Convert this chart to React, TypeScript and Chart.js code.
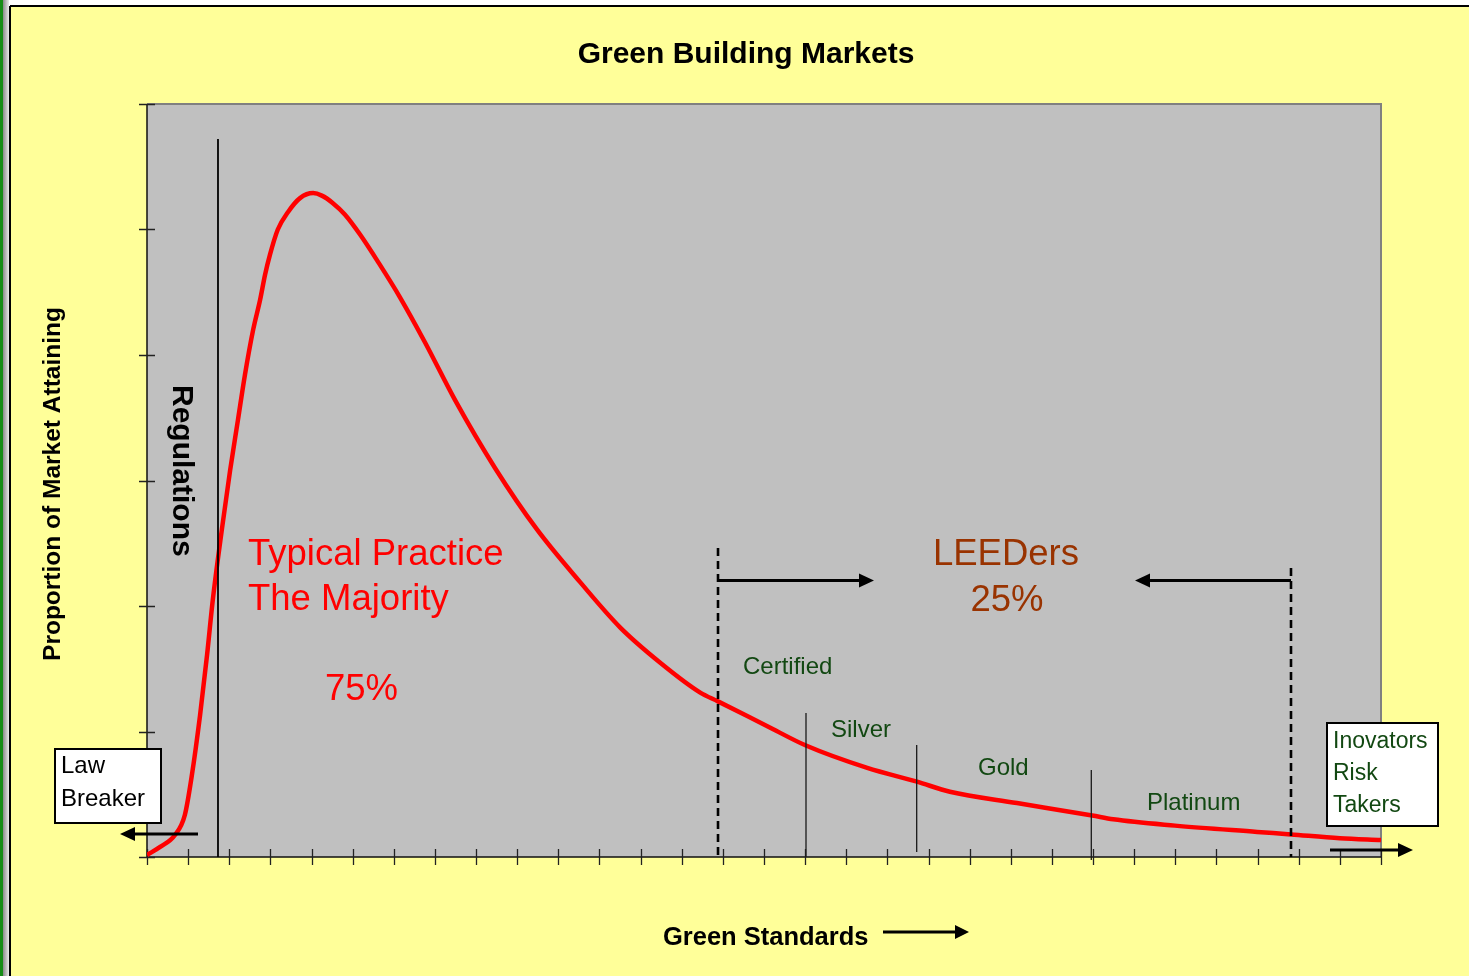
import React, { useEffect, useRef } from "react";
import { Chart, registerables } from "chart.js";

Chart.register(...registerables);

// ---- Data (x = green standard level, y = proportion of market) ----
const curveX = [
  0, 0.32, 0.68, 0.92, 1.09, 1.29, 1.46, 1.6, 1.82, 2.02, 2.21, 2.38, 2.58, 2.75, 2.87, 2.99,
  3.18, 3.43, 3.72, 4.04, 4.25, 4.52, 4.81, 5.18, 5.66, 6.15, 6.76, 7.49, 8.46, 9.48, 10.53,
  11.5, 12.47, 13.45, 13.88, 15.07, 16.02, 17.51, 18.72, 19.52, 21.15, 22.98, 23.49, 24.99,
  26.99, 27.81, 29.0, 30,
];
const curveY = [
  0.016, 0.08, 0.175, 0.335, 0.65, 1.13, 1.61, 2.05, 2.61, 3.08, 3.48, 3.84, 4.2, 4.44, 4.64,
  4.8, 5.0, 5.14, 5.25, 5.29, 5.27, 5.21, 5.12, 4.96, 4.72, 4.46, 4.1, 3.64, 3.1, 2.61, 2.19,
  1.83, 1.55, 1.31, 1.24, 1.044, 0.888, 0.71, 0.6, 0.52, 0.43, 0.33, 0.3, 0.25, 0.2, 0.18, 0.15,
  0.135,
];
const xTickValues = Array.from({ length: 31 }, (_, i) => i);
const yTickValues = [0, 1, 2, 3, 4, 5, 6];

// ---- Annotation texts ----
const titleText = "Green Building Markets";
const yTitleText = "Proportion of Market Attaining";
const xTitleText = "Green Standards";
const regulationsText = "Regulations";
const majorityLines = ["Typical Practice", "The Majority"];
const majorityShare = "75%";
const leedersLines = ["LEEDers", "25%"];
const levelNames = ["Certified", "Silver", "Gold", "Platinum"];
const lawBreakerLines = ["Law", "Breaker"];
const innovatorLines = ["Inovators", "Risk", "Takers"];

const FONT = '"Liberation Sans", Arial, Helvetica, sans-serif';
const GREEN = "#124812";

function arrow(ctx: CanvasRenderingContext2D, x1: number, y1: number, x2: number, y2: number, lw = 3, hl = 15, hw = 7) {
  const ang = Math.atan2(y2 - y1, x2 - x1);
  const bx = x2 - hl * Math.cos(ang);
  const by = y2 - hl * Math.sin(ang);
  ctx.save();
  ctx.strokeStyle = "#000";
  ctx.fillStyle = "#000";
  ctx.lineWidth = lw;
  ctx.beginPath();
  ctx.moveTo(x1, y1);
  ctx.lineTo(bx, by);
  ctx.stroke();
  ctx.beginPath();
  ctx.moveTo(x2, y2);
  ctx.lineTo(bx + hw * Math.sin(ang), by - hw * Math.cos(ang));
  ctx.lineTo(bx - hw * Math.sin(ang), by + hw * Math.cos(ang));
  ctx.closePath();
  ctx.fill();
  ctx.restore();
}

const decorPlugin = {
  id: "decor",
  beforeDraw(chart: any) {
    const { ctx, width: W, height: H, chartArea: a } = chart;
    ctx.save();
    ctx.fillStyle = "#FFFFFF";
    ctx.fillRect(0, 0, W, H);
    ctx.fillStyle = "#FFFF99";
    ctx.fillRect(10, 6, W - 10, H - 6);
    // left strip
    ctx.fillStyle = "#168C16";
    ctx.fillRect(0, 0, 3, H);
    const g = ctx.createLinearGradient(3, 0, 9, 0);
    g.addColorStop(0, "#8a8a8a");
    g.addColorStop(1, "#ececec");
    ctx.fillStyle = g;
    ctx.fillRect(3, 0, 6, H);
    ctx.strokeStyle = "#000";
    ctx.lineWidth = 2;
    ctx.beginPath();
    ctx.moveTo(10, 6);
    ctx.lineTo(W, 6);
    ctx.moveTo(10, 6);
    ctx.lineTo(10, H);
    ctx.stroke();
    // plot area
    ctx.fillStyle = "#C0C0C0";
    ctx.fillRect(a.left, a.top, a.right - a.left, a.bottom - a.top);
    ctx.strokeStyle = "#808080";
    ctx.lineWidth = 2;
    ctx.beginPath();
    ctx.moveTo(a.left, a.top);
    ctx.lineTo(a.right, a.top);
    ctx.lineTo(a.right, a.bottom);
    ctx.stroke();
    // axes
    const xs = chart.scales.x;
    const ys = chart.scales.y;
    ctx.strokeStyle = "#111";
    ctx.lineWidth = 1.5;
    ctx.beginPath();
    ctx.moveTo(a.left, a.top);
    ctx.lineTo(a.left, a.bottom);
    ctx.lineTo(a.right, a.bottom);
    ctx.stroke();
    ctx.lineWidth = 1.3;
    ctx.strokeStyle = "#222";
    ctx.beginPath();
    for (const v of yTickValues) {
      const y = Math.round(ys.getPixelForValue(v)) + 0.5;
      ctx.moveTo(a.left - 8, y);
      ctx.lineTo(a.left + 8, y);
    }
    for (const v of xTickValues) {
      const x = Math.round(xs.getPixelForValue(v)) + 0.5;
      ctx.moveTo(x, a.bottom - 8);
      ctx.lineTo(x, a.bottom + 8);
    }
    ctx.stroke();
    ctx.restore();
  },
  afterDatasetsDraw(chart: any) {
    const { ctx } = chart;
    const xs = chart.scales.x;
    const ys = chart.scales.y;
    const px = (v: number) => xs.getPixelForValue(v);
    const py = (v: number) => ys.getPixelForValue(v);
    ctx.save();

    // Regulations line
    ctx.strokeStyle = "#000";
    ctx.lineWidth = 1.8;
    ctx.beginPath();
    ctx.moveTo(px(1.726), py(5.721));
    ctx.lineTo(px(1.726), py(0));
    ctx.stroke();

    // LEED dashed boundaries
    ctx.lineWidth = 2.6;
    ctx.setLineDash([8, 5]);
    ctx.beginPath();
    ctx.moveTo(px(13.882), py(2.462));
    ctx.lineTo(px(13.882), py(0));
    ctx.moveTo(px(27.812), py(2.303));
    ctx.lineTo(px(27.812), py(0));
    ctx.stroke();
    ctx.setLineDash([]);

    // level dividers
    ctx.lineWidth = 1.3;
    ctx.strokeStyle = "#1a1a1a";
    ctx.beginPath();
    ctx.moveTo(px(16.021), py(1.147));
    ctx.lineTo(px(16.021), py(0));
    ctx.moveTo(px(18.712), py(0.892));
    ctx.lineTo(px(18.712), py(0.04));
    ctx.moveTo(px(22.957), py(0.693));
    ctx.lineTo(px(22.957), py(-0.024));
    ctx.stroke();

    // LEED arrows
    arrow(ctx, px(13.882), py(2.203), px(17.674), py(2.203), 3, 15, 7);
    arrow(ctx, px(27.812), py(2.203), px(24.02), py(2.203), 3, 15, 7);

    // Regulations text
    ctx.save();
    ctx.translate(px(0.632), py(3.761));
    ctx.rotate(Math.PI / 2);
    ctx.fillStyle = "#000";
    ctx.font = `bold 30px ${FONT}`;
    ctx.textAlign = "left";
    ctx.textBaseline = "alphabetic";
    ctx.fillText(regulationsText, 0, 0);
    ctx.restore();

    // Majority text
    ctx.fillStyle = "#FF0000";
    ctx.font = `36.5px ${FONT}`;
    ctx.textAlign = "left";
    ctx.textBaseline = "alphabetic";
    ctx.fillText(majorityLines[0], px(2.455), py(2.327));
    ctx.fillText(majorityLines[1], px(2.455), py(1.968));
    ctx.fillText(majorityShare, px(4.327), py(1.251));

    // LEEDers
    ctx.fillStyle = "#993300";
    ctx.font = `36.5px ${FONT}`;
    ctx.textAlign = "center";
    ctx.fillText(leedersLines[0], px(20.883), py(2.327));
    ctx.fillText(leedersLines[1], px(20.908), py(1.96));

    // levels
    ctx.fillStyle = GREEN;
    ctx.font = `24px ${FONT}`;
    ctx.textAlign = "left";
    const levelPos = [
      [14.489, 1.458],
      [16.628, 0.956],
      [20.202, 0.653],
      [24.311, 0.375],
    ];
    levelNames.forEach((t, i) => ctx.fillText(t, px(levelPos[i][0]), py(levelPos[i][1])));

    // Law Breaker box + arrow
    ctx.fillStyle = "#FFFFFF";
    ctx.fillRect(55, 749, 106, 74);
    ctx.strokeStyle = "#000";
    ctx.lineWidth = 2;
    ctx.strokeRect(55, 749, 106, 74);
    ctx.fillStyle = "#000";
    ctx.font = `24px ${FONT}`;
    ctx.fillText(lawBreakerLines[0], 61, 773);
    ctx.fillText(lawBreakerLines[1], 61, 806);
    arrow(ctx, 198, 834, 120, 834, 3, 15, 7);

    // Innovators box + arrow
    ctx.fillStyle = "#FFFFFF";
    ctx.fillRect(1327, 723, 111, 103);
    ctx.strokeStyle = "#000";
    ctx.lineWidth = 2;
    ctx.strokeRect(1327, 723, 111, 103);
    ctx.fillStyle = GREEN;
    ctx.font = `23px ${FONT}`;
    ctx.fillText(innovatorLines[0], 1333, 748);
    ctx.fillText(innovatorLines[1], 1333, 780);
    ctx.fillText(innovatorLines[2], 1333, 812);
    arrow(ctx, 1330, 850, 1413, 850, 3, 15, 7);

    // Title
    ctx.fillStyle = "#000";
    ctx.textAlign = "center";
    ctx.font = `bold 30px ${FONT}`;
    ctx.fillText(titleText, 746, 63);

    // X title + arrow
    ctx.textAlign = "left";
    ctx.font = `bold 25.5px ${FONT}`;
    ctx.fillText(xTitleText, 663, 945);
    arrow(ctx, 883, 932, 969, 932, 3, 14, 7);

    // Y title
    ctx.save();
    ctx.translate(60, 484);
    ctx.rotate(-Math.PI / 2);
    ctx.textAlign = "center";
    ctx.font = `bold 24.5px ${FONT}`;
    ctx.fillText(yTitleText, 0, 0);
    ctx.restore();

    ctx.restore();
  },
};

export default function App() {
  const ref = useRef<HTMLCanvasElement | null>(null);
  useEffect(() => {
    document.body.style.margin = "0";
    const canvas = ref.current!;
    const chart = new Chart(canvas, {
      type: "scatter",
      data: {
        datasets: [
          {
            data: curveX.map((x, i) => ({ x, y: curveY[i] })),
            showLine: true,
            borderColor: "#FF0000",
            borderWidth: 4.5,
            pointRadius: 0,
            cubicInterpolationMode: "monotone",
            fill: false,
          },
        ],
      },
      options: {
        responsive: false,
        animation: false,
        devicePixelRatio: 1,
        layout: { padding: { left: 147, top: 104, right: 88, bottom: 119 } },
        plugins: { legend: { display: false }, tooltip: { enabled: false } },
        scales: {
          x: { type: "linear", min: 0, max: 30, display: false },
          y: { type: "linear", min: 0, max: 6, display: false },
        },
      },
      plugins: [decorPlugin],
    });
    return () => chart.destroy();
  }, []);
  return <canvas ref={ref} width={1469} height={976} style={{ display: "block" }} />;
}
